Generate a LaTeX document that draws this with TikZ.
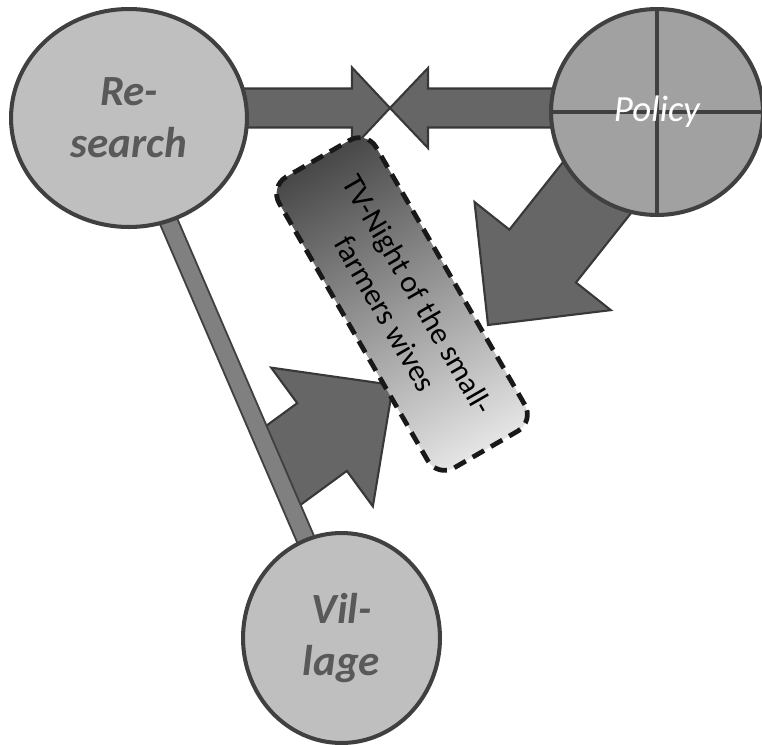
\documentclass[tikz,border=0pt]{standalone}
\usepackage{fontspec}
\setmainfont{Carlito}
\usetikzlibrary{shapes.geometric,calc}
\pgfdeclarelayer{bg}
\pgfsetlayers{bg,main}
\newcommand{\blockarrow}[6]{%
  \coordinate (#6) at ($(#2)!#5!(#1)$);
  \draw[blockarr] ($(#1)!#3!90:(#2)$) -- ($(#6)!#3!90:(#2)$) -- ($(#6)!#4!90:(#2)$) -- (#2)
    -- ($(#6)!#4!-90:(#2)$) -- ($(#6)!#3!-90:(#2)$) -- ($(#1)!#3!-90:(#2)$) -- cycle;
}

\begin{document}
\begin{tikzpicture}[x=0.02cm, y=-0.02cm,
  circ/.style={ellipse, draw=black!75, line width=2.3pt, fill=black!25, inner sep=0pt, align=center},
  circlabel/.style={text=black!65, font=\fontsize{24.5}{29.5}\selectfont\bfseries\itshape},
  blockarr/.style={fill=black!60, draw=black!78, line width=1.2pt, line join=miter},
  tube/.style={draw=black!75, line width=1.1pt, double=black!50, double distance=0.32cm},
  tvbox/.style={draw=black!90, line width=2.7pt, dash pattern=on 7.5pt off 4.5pt, rounded corners=11pt,
    left color=black!72, middle color=black!27, right color=black!10,
    minimum width=6.72cm, minimum height=2.24cm, align=center, font=\fontsize{17.5}{21.5}\selectfont}]
	\useasboundingbox (0,0) rectangle (762,745);

	\node[circ, circlabel, minimum width=4.72cm, minimum height=4.36cm] (research) at (129,118) {Re-\\search};
	\node[circ, fill=black!37, minimum width=4.24cm, minimum height=4.12cm] (policy) at (657,112) {};
	\node[circ, circlabel, minimum width=3.94cm, minimum height=4.2cm] (village) at (341.5,638) {Vil-\\lage};
	\draw[line width=1.8pt, black!75] (policy.north) -- (policy.south) (policy.west) -- (policy.east);
	\node[text=white, font=\fontsize{21}{25}\selectfont\itshape] (policytext) at (policy) {Policy};

	\coordinate (rtail) at (129,108);
	\coordinate (ptail) at (657,108);
	\coordinate (meet) at (390,108);
	\coordinate (ptip) at (488,325);
	\coordinate (vtail) at (262,481);
	\coordinate (vtip) at (393,385);

	\begin{pgfonlayer}{bg}
		\begin{scope}
			\clip (research.-69) -- (village.110) -- (762,745) -- (762,0) -- cycle;
			\blockarrow{vtail}{vtip}{0.84cm}{1.72cm}{1.76cm}{vhead}
		\end{scope}
		\draw[tube, shorten <=-8pt, shorten >=-8pt] (research.-69) -- (village.110);
		\blockarrow{rtail}{meet}{0.39cm}{0.81cm}{0.76cm}{rhead}
		\blockarrow{ptail}{meet}{0.39cm}{0.80cm}{0.76cm}{lhead}
		\blockarrow{policy.center}{ptip}{0.85cm}{1.74cm}{1.76cm}{phead}
	\end{pgfonlayer}

	\begin{scope}[transform canvas={shift={(402,304)}, rotate=-60}]
		\node[tvbox] (tvnight) at (0,0) {TV-Night of the small-\\farmers wives};
	\end{scope}
\end{tikzpicture}
\end{document}
